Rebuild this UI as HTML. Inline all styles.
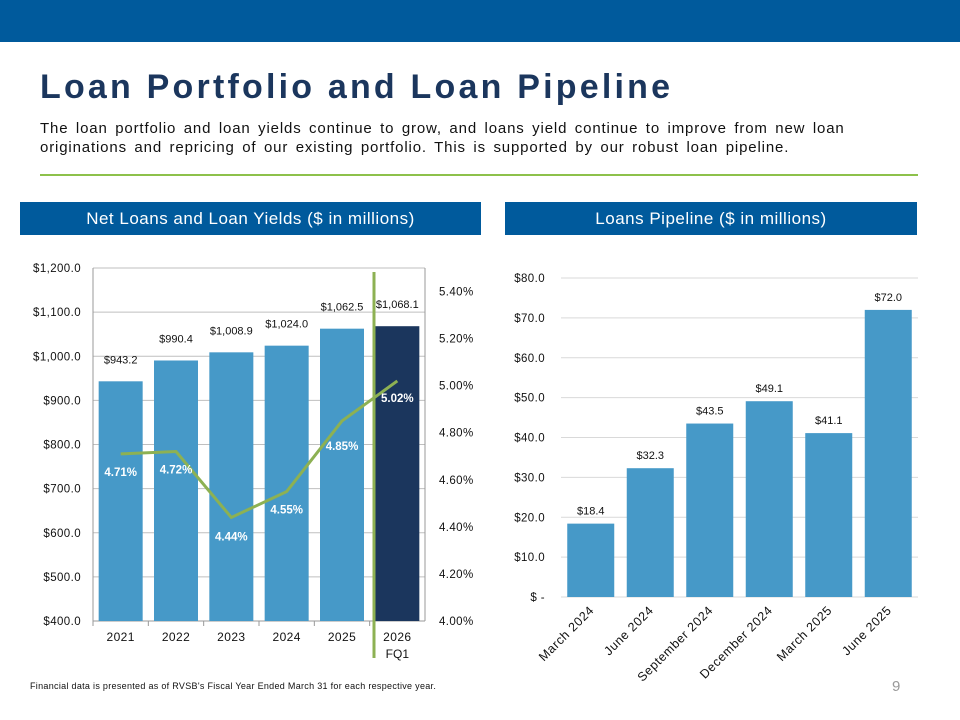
<!DOCTYPE html>
<html><head><meta charset="utf-8"><style>
body{margin:0;width:960px;height:720px;background:#fff;font-family:"Liberation Sans",sans-serif;position:relative;overflow:hidden}
.abs{position:absolute}
</style></head><body>
<div class="abs" style="left:0;top:0;width:960px;height:42px;background:#005a9c"></div>
<div class="abs" style="left:40px;top:68px;font-size:34px;font-weight:bold;color:#1b365d;letter-spacing:3.2px">Loan Portfolio and Loan Pipeline</div>
<div class="abs" style="left:40px;top:119px;width:830px;font-size:15px;line-height:19px;color:#111;letter-spacing:0.85px;word-spacing:2.5px">The loan portfolio and loan yields continue to grow, and loans yield continue to improve from new loan originations and repricing of our existing portfolio. This is supported by our robust loan pipeline.</div>
<div class="abs" style="left:40px;top:174px;width:878px;height:2px;background:#8dc14b"></div>
<div class="abs" style="left:20px;top:202px;width:461px;height:33px;background:#005a9c;color:#fff;font-size:17px;line-height:33px;text-align:center;letter-spacing:0.5px">Net Loans and Loan Yields ($ in millions)</div>
<div class="abs" style="left:505px;top:202px;width:412px;height:33px;background:#005a9c;color:#fff;font-size:17px;line-height:33px;text-align:center;letter-spacing:0.5px">Loans Pipeline ($ in millions)</div>
<div class="abs" style="left:30px;top:681px;font-size:9px;color:#111;letter-spacing:0.3px">Financial data is presented as of RVSB's Fiscal Year Ended March 31 for each respective year.</div>
<div class="abs" style="left:892px;top:678px;font-size:15px;color:#999">9</div>
<svg class="abs" style="left:0;top:0" width="960" height="720" id="svg"></svg>
<script>
const loanCats=["2021","2022","2023","2024","2025","2026"];
const loanVals=[943.2,990.4,1008.9,1024.0,1062.5,1068.1];
const yieldVals=[4.71,4.72,4.44,4.55,4.85,5.02];
const leftTicks=[400,500,600,700,800,900,1000,1100,1200];
const rightTicks=[4.0,4.2,4.4,4.6,4.8,5.0,5.2,5.4];
const pipeCats=["March 2024","June 2024","September 2024","December 2024","March 2025","June 2025"];
const pipeVals=[18.4,32.3,43.5,49.1,41.1,72.0];
const pipeTicks=[0,10,20,30,40,50,60,70,80];

const NS="http://www.w3.org/2000/svg";
const svg=document.getElementById('svg');
function mk(t,a,txt){const e=document.createElementNS(NS,t);for(const k in a)e.setAttribute(k,a[k]);if(txt!=null)e.textContent=txt;svg.appendChild(e);return e;}
const F='"Liberation Sans",sans-serif';
const L={x0:93,x1:425,yb:621,yt:268};
const yL=v=>L.yb-(v-400)/800*(L.yb-L.yt);
const yR=v=>L.yb-(v-4.0)/1.5*(L.yb-L.yt);
const bw=(L.x1-L.x0)/loanCats.length;
const xc=i=>L.x0+bw*(i+0.5);
leftTicks.forEach(t=>{
 let e=mk('line',{x1:L.x0,x2:L.x1,y1:yL(t),y2:yL(t),stroke:'#bfbfbf','stroke-width':1});
 
 e=mk('text',{x:L.x0-12,y:yL(t)+4,'text-anchor':'end','font-size':11.5,'font-family':F,fill:'#111','letter-spacing':0.4},'$'+t.toLocaleString('en-US',{minimumFractionDigits:1}));
 
});
rightTicks.forEach(t=>{
 const e=mk('text',{x:L.x1+14,y:yR(t)+4,'font-size':11.5,'font-family':F,fill:'#111','letter-spacing':0.4},t.toFixed(2)+'%');
 
});
mk('line',{x1:L.x0,x2:L.x0,y1:L.yt,y2:L.yb,stroke:'#999'});
mk('line',{x1:L.x1,x2:L.x1,y1:L.yt,y2:L.yb,stroke:'#999'});
mk('line',{x1:L.x0,x2:L.x1,y1:L.yb,y2:L.yb,stroke:'#999'});
loanVals.forEach((v,i)=>{
 let e=mk('rect',{x:xc(i)-22,y:yL(v),width:44,height:L.yb-yL(v),fill:i==5?'#1b365d':'#4699c8'});
 
 e=mk('text',{x:xc(i),y:yL(v)-18,'text-anchor':'middle','font-size':11,'font-family':F,fill:'#111'},'$'+v.toLocaleString('en-US',{minimumFractionDigits:1}));
 
 e=mk('text',{x:xc(i),y:L.yb+20,'text-anchor':'middle','font-size':12,'font-family':F,fill:'#111','letter-spacing':0.4},loanCats[i]);
 
 const tx=L.x0+bw*i;mk('line',{x1:tx,x2:tx,y1:L.yb,y2:L.yb+5,stroke:'#999'});
});
mk('text',{x:xc(5),y:L.yb+37,'text-anchor':'middle','font-size':12,'font-family':F,fill:'#111'},'FQ1');
const vl=mk('line',{x1:374,x2:374,y1:272,y2:658,stroke:'#8db153','stroke-width':3});

const pl=mk('polyline',{points:yieldVals.map((v,i)=>xc(i)+','+yR(v)).join(' '),fill:'none',stroke:'#8db153','stroke-width':3});

const offs=[18,18,19,18,25,17];
yieldVals.forEach((v,i)=>{
 const e=mk('text',{x:xc(i),y:yR(v)+offs[i]+4,'text-anchor':'middle','font-size':11.5,'font-weight':'bold','font-family':F,fill:'#fff'},v.toFixed(2)+'%');
 
});
const R={x0:561,x1:918,yb:597,yt:278};
const yP=v=>R.yb-v/80*(R.yb-R.yt);
const pw=(R.x1-R.x0)/pipeCats.length;
const pc=i=>R.x0+pw*(i+0.5);
pipeTicks.forEach(t=>{
 let e=mk('line',{x1:R.x0,x2:R.x1,y1:yP(t),y2:yP(t),stroke:'#d9d9d9'});
 
 e=mk('text',{x:R.x0-16,y:yP(t)+4,'text-anchor':'end','font-size':11.5,'font-family':F,fill:'#111','letter-spacing':0.4},t==0?'$ -':'$'+t.toFixed(1));
 
});
pipeVals.forEach((v,i)=>{
 let e=mk('rect',{x:pc(i)-23.5,y:yP(v),width:47,height:R.yb-yP(v),fill:'#4699c8'});
 
 e=mk('text',{x:pc(i),y:yP(v)-9,'text-anchor':'middle','font-size':11,'font-family':F,fill:'#111'},'$'+v.toFixed(1));
 
 const x=pc(i)+4,y=R.yb+14;
 e=mk('text',{x:x,y:y,'text-anchor':'end','font-size':12.5,'font-family':F,fill:'#111','letter-spacing':0.6,transform:'rotate(-45 '+x+' '+y+')'},pipeCats[i]);
 
});
</script>
</body></html>
